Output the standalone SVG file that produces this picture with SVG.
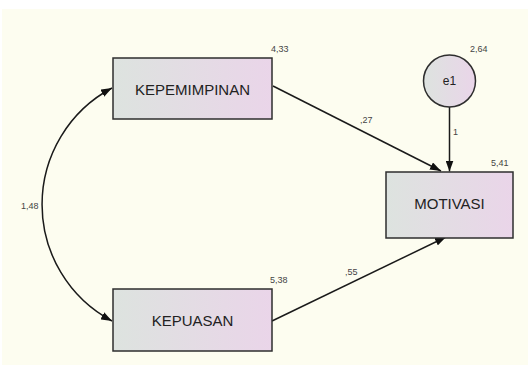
<svg xmlns="http://www.w3.org/2000/svg" width="528" height="365" viewBox="0 0 528 365">
<defs>
<linearGradient id="g" x1="0" y1="0" x2="1" y2="0">
<stop offset="0" stop-color="#dde3df"/>
<stop offset="1" stop-color="#ead5e9"/>
</linearGradient>
<marker id="ah" markerUnits="userSpaceOnUse" markerWidth="11" markerHeight="8" refX="11" refY="4" orient="auto-start-reverse">
<path d="M0,0 L11,4 L0,8 z" fill="#111"/>
</marker>
<style>
.box{fill:url(#g);stroke:#2e2e2e;stroke-width:1.5}
.lbl{font-family:"Liberation Sans",Arial,sans-serif;font-size:15px;fill:#222;text-anchor:middle}
.num{font-family:"Liberation Sans",Arial,sans-serif;font-size:9px;fill:#444}
.con{fill:none;stroke:#1a1a1a;stroke-width:1.5}
</style>
</defs>
<rect x="0" y="0" width="528" height="365" fill="#ffffff"/>
<rect x="2" y="9" width="526" height="356" fill="#fdfdf0"/>
<g id="connectors">
<path class="con" d="M112,88 A132,132 0 0 0 112,321" marker-start="url(#ah)" marker-end="url(#ah)"/>
<line class="con" x1="273" y1="86" x2="441" y2="171" marker-end="url(#ah)"/>
<line class="con" x1="449.5" y1="107" x2="449.5" y2="171.5" marker-end="url(#ah)"/>
<line class="con" x1="272" y1="321" x2="446" y2="237" marker-end="url(#ah)"/>
<text class="num" x="21" y="209">1,48</text>
<text class="num" x="360" y="123">,27</text>
<text class="num" x="345" y="275">,55</text>
<text class="num" x="453" y="135">1</text>
</g>
<g id="kepemimpinan">
<rect class="box" x="113" y="58" width="159" height="61"/>
<text class="lbl" x="192.5" y="95">KEPEMIMPINAN</text>
<text class="num" x="271" y="52">4,33</text>
</g>
<g id="kepuasan">
<rect class="box" x="113" y="289" width="159" height="62"/>
<text class="lbl" x="192.5" y="326">KEPUASAN</text>
<text class="num" x="270" y="283">5,38</text>
</g>
<g id="motivasi">
<rect class="box" x="386" y="172" width="127" height="66"/>
<text class="lbl" x="449.5" y="209">MOTIVASI</text>
<text class="num" x="491" y="166">5,41</text>
</g>
<g id="e1">
<circle class="box" cx="449.5" cy="81" r="26"/>
<text class="lbl" x="449.5" y="85" style="font-size:12px">e1</text>
<text class="num" x="470" y="52">2,64</text>
</g>
</svg>
